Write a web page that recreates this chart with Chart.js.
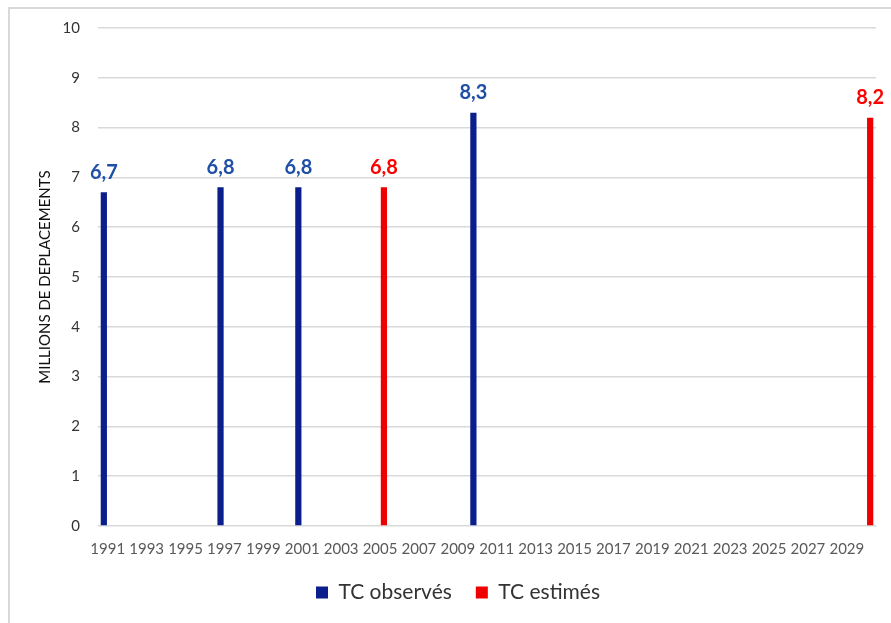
<!DOCTYPE html>
<html>
<head>
<meta charset="utf-8">
<script src="https://cdn.jsdelivr.net/npm/chart.js@4.4.1/dist/chart.umd.min.js"></script>
<style>
    html, body { margin: 0; padding: 0; background: #fff; overflow: hidden; }
    #wrap { position: relative; width: 891px; height: 623px; }
    #frame {
        position: absolute; left: 8px; top: 7px; width: 1000px; height: 1000px;
        border-top: 2px solid #d9d9d9; border-left: 2px solid #d9d9d9;
    }
    #tcChart { position: absolute; left: 0; top: 0; }
</style>
</head>
<body>
<div id="wrap">
    <div id="frame"></div>
    <canvas id="tcChart" width="891" height="623"></canvas>
</div>
<script>
// années 1991 -> 2030
const years = [];
for (let y = 1991; y <= 2030; y++) years.push(String(y));

// déplacements en TC (millions)
const observedYears = ['1991', '1997', '2001', '2010'];
const observedValues = [6.7, 6.8, 6.8, 8.3];
const estimatedYears = ['2005', '2030'];
const estimatedValues = [6.8, 8.2];

const yTicks = [0, 1, 2, 3, 4, 5, 6, 7, 8, 9, 10];

function toSeries(keys, values) {
    return years.map(function (y) {
        let i = keys.indexOf(y);
        return i >= 0 ? values[i] : null;
    });
}

const fontName = 'Lato, "Liberation Sans", sans-serif';

// valeurs affichées au-dessus des barres
const valueLabels = {
    id: 'valueLabels',
    afterDatasetsDraw(chart) {
        const ctx = chart.ctx;
        ctx.save();
        ctx.font = 'bold 20px ' + fontName;
        ctx.textAlign = 'center';
        ctx.textBaseline = 'middle';
        chart.data.datasets.forEach(function (ds, di) {
            const meta = chart.getDatasetMeta(di);
            ctx.fillStyle = ds.labelColor;
            meta.data.forEach(function (bar, i) {
                const v = ds.data[i];
                if (v === null) return;
                ctx.fillText(v.toFixed(1).replace('.', ','), bar.x, bar.y - 20);
            });
        });
        ctx.restore();
    }
};

// légende un peu décalée vers la droite
const legendShift = {
    id: 'legendShift',
    afterLayout(chart) {
        if (!chart.legend) return;
        chart.legend.left += 20;
        chart.legend.right += 20;
    }
};

function manageTcChart() {
    let ctx = document.getElementById('tcChart').getContext('2d');
    new Chart(ctx, {
        type: 'bar',
        data: {
            labels: years,
            datasets: [{
                label: 'TC observés',
                data: toSeries(observedYears, observedValues),
                backgroundColor: '#0b1f8c',
                labelColor: '#1f4fa6',
                categoryPercentage: 0.8,
                barPercentage: 0.8
            },
                {
                    label: 'TC estimés',
                    data: toSeries(estimatedYears, estimatedValues),
                    backgroundColor: '#ee0000',
                    labelColor: '#ff0000',
                    categoryPercentage: 0.8,
                    barPercentage: 0.8
                }
            ]
        },
        options: {
            responsive: false,
            animation: false,
            layout: {
                padding: { left: 0, right: 15, top: 28, bottom: 10 }
            },
            plugins: {
                legend: {
                    position: 'bottom',
                    labels: {
                        boxWidth: 12,
                        boxHeight: 12,
                        padding: 24,
                        color: '#333333',
                        font: { family: fontName, size: 21 }
                    }
                },
                tooltip: { enabled: false }
            },
            scales: {
                x: {
                    grid: { display: false },
                    border: { display: false },
                    ticks: {
                        autoSkip: false,
                        maxRotation: 0,
                        padding: 6,
                        color: '#595959',
                        font: { family: fontName, size: 15 },
                        callback: function (val, i) {
                            return i % 2 === 0 ? years[i] : '';
                        }
                    },
                    afterFit: function (s) { s.height = 32; }
                },
                y: {
                    min: yTicks[0],
                    max: yTicks[yTicks.length - 1],
                    afterBuildTicks: function (s) {
                        s.ticks = yTicks.map(function (v) { return { value: v }; });
                    },
                    grid: { color: '#d9d9d9', lineWidth: 1.5, drawTicks: false },
                    border: { display: false },
                    ticks: {
                        padding: 18,
                        color: '#333333',
                        font: { family: fontName, size: 15 }
                    },
                    title: {
                        display: true,
                        text: 'MILLIONS DE DEPLACEMENTS',
                        color: '#111111',
                        font: { family: fontName, size: 15 },
                        padding: { top: 36, bottom: 0 }
                    },
                    afterFit: function (s) { s.width = 98; }
                }
            }
        },
        plugins: [valueLabels, legendShift]
    });
}

manageTcChart();
</script>
</body>
</html>
